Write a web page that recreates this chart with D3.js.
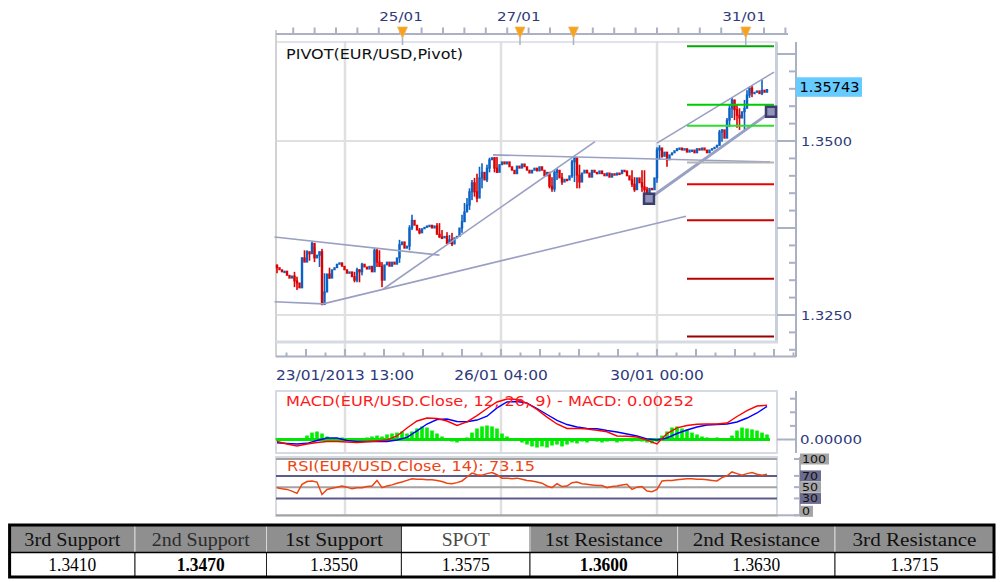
<!DOCTYPE html>
<html>
<head>
<meta charset="utf-8">
<script src="https://cdn.jsdelivr.net/npm/d3@7"></script>
<style>
    body { margin: 0; background: #fff; overflow: hidden; }
    svg { display: block; }
</style>
</head>
<body>
<div id="chart"></div>
<script>
// ---- data ----
const firstOpen = 1.3322;
const closes = [
    1.3318, 1.3315, 1.3312, 1.3313, 1.3307, 1.3303, 1.3306, 1.3299, 1.3296, 1.3289,
    1.3332, 1.3326, 1.3341, 1.3338, 1.3353, 1.3332, 1.3336, 1.3341, 1.3265, 1.3283,
    1.3309, 1.3303, 1.3315, 1.3318, 1.3323, 1.3325, 1.3320, 1.3315, 1.3310, 1.3312,
    1.3305, 1.3300, 1.3315, 1.3312, 1.3323, 1.3319, 1.3316, 1.3320, 1.3312, 1.3343,
    1.3326, 1.3320, 1.3300, 1.3322, 1.3326, 1.3320, 1.3326, 1.3323, 1.3332, 1.3351,
    1.3355, 1.3346, 1.3349, 1.3375, 1.3386, 1.3379, 1.3372, 1.3368, 1.3374, 1.3376,
    1.3378, 1.3379, 1.3375, 1.3378, 1.3366, 1.3362, 1.3361, 1.3363, 1.3353, 1.3358,
    1.3352, 1.3361, 1.3363, 1.3375, 1.3384, 1.3398, 1.3408, 1.3427, 1.3440, 1.3427,
    1.3418, 1.3447, 1.3455, 1.3444, 1.3461, 1.3473, 1.3476, 1.3461, 1.3455, 1.3466,
    1.3470, 1.3467, 1.3470, 1.3463, 1.3458, 1.3453, 1.3464, 1.3461, 1.3467, 1.3463,
    1.3458, 1.3454, 1.3458, 1.3461, 1.3457, 1.3463, 1.3458, 1.3450, 1.3455, 1.3435,
    1.3431, 1.3455, 1.3458, 1.3447, 1.3441, 1.3445, 1.3444, 1.3450, 1.3470, 1.3476,
    1.3451, 1.3441, 1.3454, 1.3458, 1.3454, 1.3448, 1.3458, 1.3455, 1.3453, 1.3457,
    1.3453, 1.3450, 1.3454, 1.3448, 1.3453, 1.3451, 1.3454, 1.3453, 1.3458, 1.3457,
    1.3450, 1.3444, 1.3438, 1.3430, 1.3447, 1.3440, 1.3434, 1.3430, 1.3424, 1.3432,
    1.3430, 1.3447, 1.3487, 1.3490, 1.3478, 1.3484, 1.3473, 1.3480, 1.3483, 1.3486,
    1.3489, 1.3490, 1.3487, 1.3489, 1.3484, 1.3487, 1.3487, 1.3483, 1.3489, 1.3487,
    1.3490, 1.3487, 1.3483, 1.3487, 1.3489, 1.3491, 1.3494, 1.3513, 1.3516, 1.3504,
    1.3530, 1.3547, 1.3559, 1.3545, 1.3537, 1.3533, 1.3542, 1.3547, 1.3566, 1.3576,
    1.3569, 1.3570, 1.3572, 1.3568, 1.3573, 1.3570, 1.3574
];
const lastPrice = 1.35743;

// visible high/low of the candles that show a range: [index, high, low]
const wicks = [
    [0, 1.3320, 1.3310], [7, 1.3312, 1.3290], [8, 1.3305, 1.3286], [10, 1.3333, 1.3289],
    [11, 1.3343, 1.3326], [12, 1.3343, 1.3326], [13, 1.3339, 1.3328], [14, 1.3355, 1.3339],
    [15, 1.3348, 1.3326], [17, 1.3341, 1.3319], [18, 1.3345, 1.3264], [19, 1.3310, 1.3279],
    [21, 1.3318, 1.3302], [31, 1.3312, 1.3297], [32, 1.3318, 1.3297], [33, 1.3316, 1.3297],
    [34, 1.3325, 1.3307], [39, 1.3346, 1.3315], [40, 1.3345, 1.3319], [41, 1.3343, 1.3319],
    [42, 1.3326, 1.3290], [49, 1.3358, 1.3325], [53, 1.3379, 1.3343], [54, 1.3394, 1.3372],
    [57, 1.3375, 1.3366], [64, 1.3382, 1.3366], [65, 1.3382, 1.3361], [66, 1.3372, 1.3361],
    [68, 1.3369, 1.3352], [69, 1.3365, 1.3352], [70, 1.3368, 1.3349], [74, 1.3394, 1.3368],
    [75, 1.3411, 1.3384], [76, 1.3418, 1.3398], [77, 1.3432, 1.3401], [78, 1.3444, 1.3415],
    [79, 1.3447, 1.3420], [80, 1.3453, 1.3412], [81, 1.3463, 1.3425], [82, 1.3468, 1.3432],
    [84, 1.3466, 1.3441], [85, 1.3476, 1.3455], [87, 1.3477, 1.3455], [88, 1.3477, 1.3454],
    [109, 1.3454, 1.3432], [110, 1.3448, 1.3427], [111, 1.3458, 1.3427], [112, 1.3461, 1.3444],
    [114, 1.3454, 1.3437], [118, 1.3473, 1.3447], [119, 1.3477, 1.3441], [120, 1.3473, 1.3432],
    [121, 1.3466, 1.3432], [142, 1.3458, 1.3434], [143, 1.3448, 1.3427], [146, 1.3458, 1.3427],
    [147, 1.3458, 1.3425], [148, 1.3434, 1.3421], [152, 1.3491, 1.3440], [153, 1.3494, 1.3473],
    [154, 1.3490, 1.3476], [156, 1.3484, 1.3463], [177, 1.3516, 1.3493], [178, 1.3517, 1.3499],
    [180, 1.3533, 1.3506], [181, 1.3552, 1.3520], [182, 1.3562, 1.3533], [183, 1.3559, 1.3530],
    [184, 1.3552, 1.3519], [185, 1.3547, 1.3516], [187, 1.3559, 1.3516], [188, 1.3573, 1.3549],
    [189, 1.3578, 1.3562], [190, 1.3580, 1.3563], [194, 1.3588, 1.3566]
];

// pivot levels (R3 .. S4) drawn over the last session
const pivotLevels = [1.3636, 1.3552, 1.3522, 1.3469, 1.3438, 1.3386, 1.3302, 1.3219];
const pivotColors = ['#00a800', '#00cc00', '#2ede2e', '#b4b4b4', '#ee0000', '#cc0000', '#bb0000', '#990000'];
const pivotFrom = 164, pivotTo = 198.8;

// hand drawn trend lines: [candle index, price] pairs
const trendLines = [
    [[-1, 1.3362], [65, 1.3336]],
    [[-1, 1.3269], [18.4, 1.3266]],
    [[18.4, 1.3266], [163.6, 1.3392]],
    [[42.4, 1.3287], [127.2, 1.3499]],
    [[86.4, 1.3480], [197.2, 1.3470]],
    [[152, 1.3497], [198.8, 1.3599]]
];
const channelLine = [[148.8, 1.3417], [197.6, 1.3542]];

// indicator series, one point every 4 candles (macd) / 2 candles (hist, rsi)
const macdStep = 4;
const macdLine = [-0.00015, -0.00033, -0.00048, -0.00033, -0.00022, -0.00015, -0.00015, -0.00018, -0.00022, -0.00017,
    -0.00011, -0.00004, 0.00026, 0.00085, 0.00136, 0.00158, 0.00154, 0.00136, 0.00103, 0.00129,
    0.00176, 0.00228, 0.00276, 0.00298, 0.00294, 0.00268, 0.00221, 0.00165, 0.00114, 0.00081,
    0.00082, 0.00077, 0.00068, 0.00057, 0.00026, 0.00024, 0.00018, -0.00004, -0.00033, 0.00044,
    0.00085, 0.00103, 0.00112, 0.00114, 0.00114, 0.00121, 0.00169, 0.00213, 0.00246, 0.00252];
const signalLine = [-0.00024, -0.00029, -0.00033, -0.00028, -0.00007, 0.00011, 0.00011, -0.00007, -0.00015, -0.00015,
    -0.00015, -0.00015, -0.00004, 0.00015, 0.00063, 0.00114, 0.00147, 0.00151, 0.00132, 0.00131,
    0.00143, 0.00171, 0.00232, 0.00276, 0.00279, 0.00268, 0.00228, 0.00184, 0.00140, 0.00110,
    0.00092, 0.00082, 0.00079, 0.00066, 0.00055, 0.00040, 0.00026, 0.00005, -0.00004, 0.00011,
    0.00044, 0.00070, 0.00092, 0.00107, 0.00110, 0.00114, 0.00129, 0.00158, 0.00195, 0.00243];
const histStep = 2;
const histogram = [0.00007, 0, -0.00007, 0, 0.00007, 0.00007, 0.00029, 0.00051, 0.00059, 0.00044,
    0.00022, 0.00007, 0.00007, 0.00015, 0, -0.00007, 0, 0.00007, 0.00015, 0.00022,
    0.00029, 0.00022, 0.00037, 0.00044, 0.00051, 0.00059, 0.00044, 0.00059, 0.00081, 0.00096,
    0.00088, 0.00066, 0.00044, 0.00022, 0.00007, -0.00015, -0.00022, -0.00007, 0.00015, 0.00051,
    0.00081, 0.00096, 0.00103, 0.00096, 0.00081, 0.00044, 0.00022, 0.00007, -0.00007, -0.00022,
    -0.00037, -0.00051, -0.00059, -0.00051, -0.00059, -0.00044, -0.00037, -0.00051, -0.00037, -0.00022,
    -0.00029, -0.00015, -0.00022, -0.00007, -0.00015, -0.00022, -0.00015, -0.00007, -0.00022, -0.00015,
    -0.00007, -0.00015, -0.00007, -0.00015, -0.00022, -0.00029, -0.00015, 0.00029, 0.00059, 0.00088,
    0.00096, 0.00081, 0.00074, 0.00051, 0.00037, 0.00022, 0.00015, 0.00007, 0.00015, 0.00007,
    0.00007, 0.00029, 0.00066, 0.00088, 0.00081, 0.00074, 0.00066, 0.00051, 0.00037];
const rsiStep = 2;
const rsi = [49, 47, 46, 43, 39, 55, 60, 61, 59, 37,
    46, 48, 50, 52, 50, 47, 49, 49, 51, 52,
    62, 49, 52, 54, 57, 59, 62, 65, 64, 64,
    63, 63, 62, 60, 57, 56, 58, 61, 68, 75,
    72, 71, 74, 76, 72, 66, 66, 65, 66, 64,
    62, 61, 59, 57, 52, 49, 56, 51, 52, 58,
    59, 56, 55, 54, 53, 53, 49, 51, 52, 54,
    55, 46, 50, 51, 43, 42, 46, 61, 62, 62,
    63, 64, 65, 65, 64, 64, 63, 62, 61, 67,
    70, 77, 74, 71, 74, 76, 73, 71, 73.15];
const rsiLevels = [100, 70, 50, 30, 0];

// time axis
const gridIdx = [27.2, 89.6, 152];
const timeLabels = ['23/01/2013 13:00', '26/01 04:00', '30/01 00:00'];
const dayIdx = [49.6, 96.7, 186.8];
const dayLabels = ['25/01', '27/01', '31/01'];
const eventIdx = [50.2, 97.2, 118.6, 187.5];
const priceLabels = [1.3500, 1.3250];

// pivot table
const tableHeaders = ['3rd Support', '2nd Support', '1st Support', 'SPOT', '1st Resistance', '2nd Resistance', '3rd Resistance'];
const tableValues = ['1.3410', '1.3470', '1.3550', '1.3575', '1.3600', '1.3630', '1.3715'];
const boldValues = ['1.3470', '1.3600'];


class PivotChartView {

    constructor(container){
        this.container = container;
        this.width = 1002;
        this.height = 582;

        this.axisColor = '#a9b1c3';
        this.gridColor = '#e0e0e0';
        this.frameColor = '#d6dae2';
        this.labelColor = '#2e3a7a';
        this.trendColor = '#9a9fc4';
        this.candle_color = {up: '#0a62c4', down: '#dd0000'};
        this.serif = '"Liberation Serif", "DejaVu Serif", serif';

        this.left = 276;
        this.right = 777;
        this.axisX = 796;
    }

    init(){
        d3.select(this.container).html('');
        this.svg = d3.select(this.container)
            .append('svg')
            .attr('width', this.width)
            .attr('height', this.height)
            .attr('font-family', '"DejaVu Sans", Verdana, sans-serif');

        this.x = d3.scaleLinear().domain([0, closes.length - 1]).range([277, 767]);
        this.y = d3.scaleLinear().domain([1.3500, 1.3250]).range([141, 315]);
        this.y_macd = d3.scaleLinear().domain([0, 0.001]).range([439.5, 425.9]);
        this.y_rsi = d3.scaleLinear().domain([0, 100]).range([515.3, 459]);
    }

    text(g, str, x, y, opt){
        let t = g.append('text')
            .attr('x', x)
            .attr('y', y)
            .attr('font-size', opt.size || 13)
            .attr('fill', opt.color || '#000')
            .text(str);
        if(opt.anchor) t.attr('text-anchor', opt.anchor);
        if(opt.width) t.attr('textLength', opt.width).attr('lengthAdjust', 'spacingAndGlyphs');
        if(opt.family) t.attr('font-family', opt.family);
        if(opt.weight) t.attr('font-weight', opt.weight);
        return t;
    }

    line(g, x1, y1, x2, y2, color, w){
        return g.append('line')
            .attr('x1', x1).attr('y1', y1)
            .attr('x2', x2).attr('y2', y2)
            .attr('stroke', color)
            .attr('stroke-width', w);
    }

    draw(){
        this.drawPrice();
        this.drawMacd();
        this.drawRsi();
        this.drawTable();
    }

    drawPrice(){
        let g = this.svg.append('g');

        // grid
        priceLabels.forEach((p)=>{
            this.line(g, this.left, this.y(p), 776, this.y(p), this.gridColor, 2);
        });
        gridIdx.forEach((i)=>{
            this.line(g, this.x(i), 42, this.x(i), 357, this.gridColor, 2.5);
        });

        // frame
        this.line(g, this.left, 42, this.right, 42, this.frameColor, 1.5);
        this.line(g, this.left, 30, this.left, 357, '#d2d2d2', 2);
        this.line(g, 776.5, 42, 776.5, 343, '#c9cfda', 3);
        this.line(g, this.left, 342, 778, 342, this.frameColor, 3);

        // top ruler
        this.line(g, this.left, 34, 788, 34, this.axisColor, 2);
        g.selectAll('.topTick')
            .data(d3.range(152 - 8.56 * 17, 206, 8.56))
            .enter()
            .append('line')
            .attr('x1', (d)=>this.x(d)).attr('x2', (d)=>this.x(d))
            .attr('y1', 27.5).attr('y2', 34)
            .attr('stroke', this.axisColor)
            .attr('stroke-width', 2);

        // bottom ruler
        this.line(g, this.left, 356.5, this.axisX, 356.5, this.axisColor, 2);
        g.selectAll('.bottomTick')
            .data(d3.range(152 - 7.8 * 19, 208, 7.8))
            .enter()
            .append('line')
            .attr('x1', (d)=>this.x(d)).attr('x2', (d)=>this.x(d))
            .attr('y1', (d)=>{
                return Math.round((d - 152) / 7.8) % 2 === 0 ? 349 : 352.5;
            })
            .attr('y2', 356)
            .attr('stroke', this.axisColor)
            .attr('stroke-width', 2);

        // right price axis
        this.line(g, this.axisX, 42, this.axisX, 357, this.axisColor, 2);
        g.selectAll('.priceTick')
            .data(d3.range(1.3200, 1.3651, 0.0025).filter((p)=>this.y(p) > 44 && this.y(p) < 355))
            .enter()
            .append('line')
            .attr('x1', (p)=>{
                let k = Math.round((p - 1.3250) / 0.0025);
                return k % 5 === 0 ? 777 : 789;
            })
            .attr('x2', this.axisX)
            .attr('y1', (p)=>this.y(p)).attr('y2', (p)=>this.y(p))
            .attr('stroke', this.axisColor)
            .attr('stroke-width', 2);

        priceLabels.forEach((p)=>{
            this.text(g, p.toFixed(4), 801, this.y(p) + 4.5, {size: 12.5, width: 51, color: this.labelColor});
        });

        // candles: open is the previous close
        let candles = closes.map((c, i)=>{
            return {i: i, open: i === 0 ? firstOpen : closes[i - 1], close: c};
        });
        let colorOf = (i)=> candles[i].close >= candles[i].open ? this.candle_color.up : this.candle_color.down;

        g.append('g').selectAll('.wick')
            .data(wicks)
            .enter()
            .append('rect')
            .attr('x', (d)=>this.x(d[0]) - 0.8)
            .attr('width', 1.6)
            .attr('y', (d)=>this.y(d[1]))
            .attr('height', (d)=>this.y(d[2]) - this.y(d[1]))
            .attr('fill', (d)=>colorOf(d[0]));

        g.append('g').selectAll('.candle')
            .data(candles)
            .enter()
            .append('rect')
            .attr('x', (d)=>this.x(d.i) - 1.2)
            .attr('width', 2.4)
            .attr('y', (d)=>this.y(Math.max(d.open, d.close)) - 0.5)
            .attr('height', (d)=>Math.max(2.5, Math.abs(this.y(d.open) - this.y(d.close)) + 1))
            .attr('fill', (d)=>colorOf(d.i));

        // trend lines
        g.append('g').selectAll('.trend')
            .data(trendLines)
            .enter()
            .append('line')
            .attr('x1', (d)=>this.x(d[0][0])).attr('y1', (d)=>this.y(d[0][1]))
            .attr('x2', (d)=>this.x(d[1][0])).attr('y2', (d)=>this.y(d[1][1]))
            .attr('stroke', this.trendColor)
            .attr('stroke-width', 1.6);

        this.line(g, this.x(channelLine[0][0]), this.y(channelLine[0][1]),
            this.x(channelLine[1][0]), this.y(channelLine[1][1]), this.trendColor, 3);

        // pivot levels
        g.append('g').selectAll('.pivot')
            .data(pivotLevels)
            .enter()
            .append('line')
            .attr('x1', this.x(pivotFrom)).attr('x2', this.x(pivotTo))
            .attr('y1', (d)=>this.y(d)).attr('y2', (d)=>this.y(d))
            .attr('stroke', (d, i)=>pivotColors[i])
            .attr('stroke-width', 2);

        // channel anchor handles
        g.append('g').selectAll('.handle')
            .data(channelLine)
            .enter()
            .append('rect')
            .attr('x', (d)=>this.x(d[0]) - 5)
            .attr('y', (d)=>this.y(d[1]) - 5)
            .attr('width', 10).attr('height', 10)
            .attr('fill', '#9294bd')
            .attr('stroke', '#3b3d6b')
            .attr('stroke-width', 2.5);

        // event markers on the top ruler
        eventIdx.forEach((i)=>{
            let cx = this.x(i);
            this.line(g, cx, 34, cx, 45, this.axisColor, 1.5);
            g.append('path')
                .attr('d', 'M' + (cx - 5) + ',27 L' + (cx + 5) + ',27 L' + cx + ',38 Z')
                .attr('fill', '#f7a11c')
                .attr('stroke', '#f0b860')
                .attr('stroke-width', 0.8);
        });

        dayLabels.forEach((s, k)=>{
            this.text(g, s, this.x(dayIdx[k]), 21, {size: 13, width: 43.5, anchor: 'middle', color: this.labelColor});
        });
        let widths = [138, 93.5, 93.5];
        timeLabels.forEach((s, k)=>{
            this.text(g, s, this.x(gridIdx[k]), 379.5, {size: 14, width: widths[k], anchor: 'middle', color: this.labelColor});
        });

        this.text(g, 'PIVOT(EUR/USD,Pivot)', 286, 58.5, {size: 14, width: 177, color: '#111'});

        // last price tag
        g.append('rect')
            .attr('x', this.axisX).attr('y', this.y(lastPrice) - 12)
            .attr('width', 66).attr('height', 19.5)
            .attr('fill', '#66ccff');
        this.text(g, lastPrice.toFixed(5), 799.5, this.y(lastPrice) + 3.2, {size: 14, width: 60, color: '#000'});
    }

    drawMacd(){
        let g = this.svg.append('g');
        let top = 391, bottom = 453;

        gridIdx.forEach((i)=>{
            this.line(g, this.x(i), top, this.x(i), bottom, this.gridColor, 2.5);
        });
        g.append('rect')
            .attr('x', this.left).attr('y', top)
            .attr('width', this.right - this.left).attr('height', bottom - top)
            .attr('fill', 'none')
            .attr('stroke', this.frameColor)
            .attr('stroke-width', 2);

        g.append('g').selectAll('.hist')
            .data(histogram)
            .enter()
            .append('rect')
            .attr('x', (d, k)=>this.x(k * histStep) - 1.8)
            .attr('width', 3.6)
            .attr('y', (d)=>this.y_macd(Math.max(0, d)))
            .attr('height', (d)=>Math.abs(this.y_macd(d) - this.y_macd(0)))
            .attr('fill', '#00ee00');

        this.line(g, this.left, this.y_macd(0), 770, this.y_macd(0), '#00e600', 3);

        let lineFunc = d3.line()
            .x((d, k)=>this.x(k * macdStep))
            .y((d)=>this.y_macd(d));

        g.append('path')
            .attr('d', lineFunc(signalLine))
            .attr('fill', 'none')
            .attr('stroke', '#0000ff')
            .attr('stroke-width', 1.4);
        g.append('path')
            .attr('d', lineFunc(macdLine))
            .attr('fill', 'none')
            .attr('stroke', '#ff0000')
            .attr('stroke-width', 1.4);

        // axis
        this.line(g, this.axisX, top, this.axisX, bottom, this.axisColor, 2);
        [0.001, 0.002, 0.003].forEach((v)=>{
            this.line(g, 790, this.y_macd(v), this.axisX, this.y_macd(v), this.axisColor, 2);
        });
        this.line(g, this.right, this.y_macd(0), this.axisX, this.y_macd(0), this.axisColor, 2);
        this.text(g, (0).toFixed(5), 800, this.y_macd(0) + 4.5, {size: 12.5, width: 62, color: this.labelColor});

        this.text(g, 'MACD(EUR/USD.Close, 12, 26, 9) -  MACD: ' + macdLine[macdLine.length - 1].toFixed(5),
            286, 406, {size: 14, width: 408, color: '#ff1a1a'});
    }

    drawRsi(){
        let g = this.svg.append('g');
        let top = 457, bottom = 516;

        gridIdx.forEach((i)=>{
            this.line(g, this.x(i), top, this.x(i), bottom, this.gridColor, 2.5);
        });
        g.append('rect')
            .attr('x', this.left).attr('y', top)
            .attr('width', this.right - this.left).attr('height', bottom - top)
            .attr('fill', 'none')
            .attr('stroke', this.frameColor)
            .attr('stroke-width', 2);

        let dark = (v)=> v === 70 || v === 30;
        rsiLevels.forEach((v)=>{
            this.line(g, this.left, this.y_rsi(v), this.right, this.y_rsi(v), dark(v) ? '#5c5c8c' : '#a3a3a3', 2);
        });

        let lineFunc = d3.line()
            .x((d, k)=>this.x(k * rsiStep))
            .y((d)=>this.y_rsi(d));
        g.append('path')
            .attr('d', lineFunc(rsi))
            .attr('fill', 'none')
            .attr('stroke', '#ee4411')
            .attr('stroke-width', 1.5);

        // axis and level tags
        let ax = 800;
        this.line(g, ax, top, ax, bottom, this.axisColor, 2);
        this.line(g, this.right, this.y_rsi(0), ax, this.y_rsi(0), this.axisColor, 2);
        rsiLevels.forEach((v)=>{
            this.line(g, 794, this.y_rsi(v), ax, this.y_rsi(v), this.axisColor, 2);
        });
        rsiLevels.forEach((v)=>{
            let s = String(v);
            let w = s.length * 8 + 5;
            let cy = v === 0 ? this.y_rsi(v) - 4 : this.y_rsi(v);
            g.append('rect')
                .attr('x', ax).attr('y', cy - 5.5)
                .attr('width', w).attr('height', 11)
                .attr('fill', dark(v) ? '#6c6c8e' : '#a5a5a5');
            this.text(g, s, ax + 2, cy + 4, {size: 10.5, width: s.length * 8, color: '#111'});
        });

        this.text(g, 'RSI(EUR/USD.Close, 14): ' + rsi[rsi.length - 1].toFixed(2), 287, 470.8,
            {size: 14, width: 248, color: '#ee4411'});
    }

    drawTable(){
        let g = this.svg.append('g');
        let cols = [9.6, 135, 266.5, 401.4, 530, 677.6, 835, 994];
        let top = 525, mid = 552.5, bottom = 577;
        let hw = [96, 98, 98, 48, 118, 127, 124];

        tableHeaders.forEach((h, k)=>{
            let spot = h === 'SPOT';
            g.append('rect')
                .attr('x', cols[k]).attr('y', top)
                .attr('width', cols[k + 1] - cols[k]).attr('height', mid - top)
                .attr('fill', spot ? '#ffffff' : '#8f8f8f')
                .attr('stroke', spot ? '#222' : '#d8d8d8')
                .attr('stroke-width', 1);
            let cx = (cols[k] + cols[k + 1]) / 2;
            this.text(g, h, cx, 546, {size: 19, width: hw[k], anchor: 'middle', family: this.serif,
                color: spot ? '#4a4a4a' : (k === 1 ? '#2c2c2c' : '#111')});
        });

        tableValues.forEach((v, k)=>{
            g.append('rect')
                .attr('x', cols[k]).attr('y', mid)
                .attr('width', cols[k + 1] - cols[k]).attr('height', bottom - mid)
                .attr('fill', '#fff')
                .attr('stroke', '#222')
                .attr('stroke-width', 1);
            let cx = (cols[k] + cols[k + 1]) / 2;
            let bold = boldValues.indexOf(v) >= 0;
            this.text(g, v, cx, 571, {size: 18, width: 48, anchor: 'middle', family: this.serif,
                weight: bold ? 'bold' : 'normal', color: '#000'});
        });

        g.append('rect')
            .attr('x', cols[0]).attr('y', top)
            .attr('width', cols[7] - cols[0]).attr('height', bottom - top)
            .attr('fill', 'none')
            .attr('stroke', '#000')
            .attr('stroke-width', 3);
        this.line(g, cols[0], mid, cols[7], mid, '#000', 1.5);
    }
}

let view = new PivotChartView('#chart');
view.init();
view.draw();
</script>
</body>
</html>
